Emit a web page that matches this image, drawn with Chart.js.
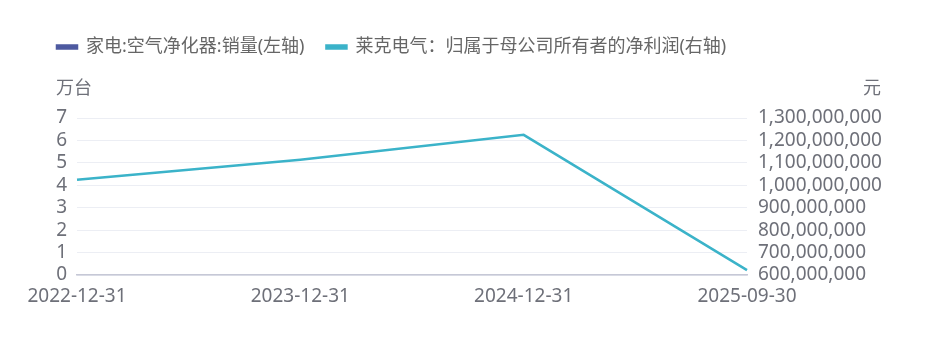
<!DOCTYPE html>
<html>
<head>
<meta charset="utf-8">
<script src="https://cdn.jsdelivr.net/npm/chart.js@4.4.1/dist/chart.umd.min.js"></script>
<style>
  html, body { margin: 0; padding: 0; background: #fff; }
  #wrap { width: 937px; height: 339px; }
</style>
</head>
<body>
<div id="wrap"><canvas id="c" width="937" height="339"></canvas></div>
<script>
// 数据
const dates = ["2022-12-31", "2023-12-31", "2024-12-31", "2025-09-30"];
const salesVolume = [null, null, null, null]; // 空气净化器销量 (万台) - 图中无数据
const netProfit = [1025000000, 1114000000, 1225000000, 622000000]; // 莱克电气 归母净利润 (元)
const leftTicks = [0, 1, 2, 3, 4, 5, 6, 7];
const rightMin = 600000000;
const rightMax = 1300000000;

const FONT = '"Noto Sans", "Noto Sans CJK SC", sans-serif';
const textColor = "#6E7079";

// 坐标轴标题（万台 / 元）
const axisTitles = {
  id: "axisTitles",
  afterDraw(chart) {
    const ctx = chart.ctx;
    ctx.save();
    ctx.font = "18px " + FONT;
    ctx.fillStyle = textColor;
    ctx.textBaseline = "middle";
    ctx.textAlign = "left";
    ctx.fillText("万台", 56, 89);
    ctx.textAlign = "right";
    ctx.fillText("元", 881, 89);
    ctx.restore();
  }
};

// 图例位置：加高并右移
const legendSpace = {
  id: "legendSpace",
  beforeInit(chart) {
    const fit = chart.legend.fit;
    chart.legend.fit = function () {
      fit.bind(chart.legend)();
      this.height += 52;
    };
  },
  afterLayout(chart) {
    chart.legend.left += 35;
    chart.legend.right += 35;
  }
};

new Chart(document.getElementById("c"), {
  type: "line",
  data: {
    labels: dates,
    datasets: [
      {
        label: "家电:空气净化器:销量(左轴)",
        data: salesVolume,
        yAxisID: "y",
        borderColor: "#4E5AA0",
        backgroundColor: "#4E5AA0",
        borderWidth: 2.5,
        pointRadius: 0
      },
      {
        label: "莱克电气：归属于母公司所有者的净利润(右轴)",
        data: netProfit,
        yAxisID: "y1",
        borderColor: "#3BB3C9",
        backgroundColor: "#3BB3C9",
        borderWidth: 2.5,
        pointRadius: 0,
        tension: 0
      }
    ]
  },
  options: {
    responsive: false,
    animation: false,
    layout: { padding: { top: 16, left: 0, right: 0, bottom: 0 } },
    plugins: {
      legend: {
        position: "top",
        align: "start",
        labels: {
          boxWidth: 20,
          boxHeight: 3,
          padding: 22,
          color: "#666",
          font: { size: 18, family: FONT }
        }
      },
      tooltip: { enabled: false }
    },
    scales: {
      x: {
        offset: false,
        grid: { display: false, drawTicks: false },
        border: { color: "#C6C8D6", width: 1.5 },
        ticks: {
          color: textColor,
          font: { size: 19, family: FONT },
          padding: 10,
          maxRotation: 0,
          autoSkip: false
        },
        afterFit(scale) { scale.height = 64; }
      },
      y: {
        position: "left",
        min: 0,
        max: 7,
        grid: { color: "#ECEEF4", drawTicks: false },
        border: { display: false },
        afterBuildTicks(scale) { scale.ticks = leftTicks.map(v => ({ value: v })); },
        ticks: {
          color: textColor,
          font: { size: 19, family: FONT },
          padding: 10,
          autoSkip: false
        },
        afterFit(scale) { scale.width = 77; }
      },
      y1: {
        position: "right",
        min: rightMin,
        max: rightMax,
        grid: { display: false, drawTicks: false },
        border: { display: false },
        ticks: {
          stepSize: 100000000,
          color: textColor,
          font: { size: 19, family: FONT },
          padding: 11,
          autoSkip: false,
          callback: v => v.toLocaleString("en-US")
        },
        afterFit(scale) { scale.width = 190; }
      }
    }
  },
  plugins: [axisTitles, legendSpace]
});
</script>
</body>
</html>
